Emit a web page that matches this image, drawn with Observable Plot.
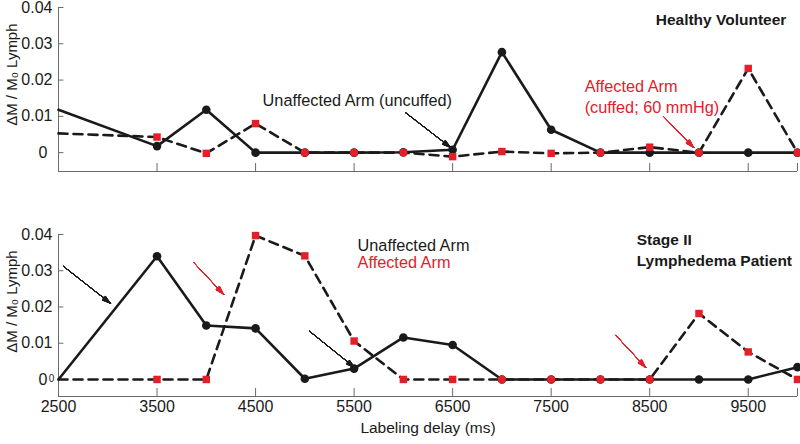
<!DOCTYPE html>
<html><head><meta charset="utf-8">
<script src="https://cdn.jsdelivr.net/npm/d3@7"></script>
<script src="https://cdn.jsdelivr.net/npm/@observablehq/plot@0.6"></script>
<style>
body{margin:0;background:#fff;}
#chart{position:relative;width:800px;height:444px;font-family:Arial,"Liberation Sans",Helvetica,sans-serif;}
#chart svg{position:absolute;left:0;overflow:visible;}
</style></head><body><div id="chart"></div>
<script>
// ---- data ----
const delays = [2500, 3500, 4000, 4500, 5000, 5500, 6000, 6500, 7000, 7500, 8000, 8500, 9000, 9500, 10000];
const healthyUnaffected = [0.0118, 0.0018, 0.0118, 0, 0, 0, 0.0001, 0.0008, 0.0277, 0.0063, 0, 0, 0, 0, 0];
const healthyAffected   = [0.0053, 0.0043, -0.0002, 0.0080, 0, 0, 0, -0.0011, 0.0003, -0.0002, 0, 0.0015, 0, 0.0232, 0];
const patientUnaffected = [0, 0.0340, 0.0149, 0.0141, 0.0002, 0.0030, 0.0116, 0.0095, 0, 0, 0, 0, 0, 0, 0.0034];
const patientAffected   = [0, 0, 0, 0.0397, 0.0341, 0.0106, 0, 0, 0, 0, 0, 0, 0.0182, 0.0076, 0];
const xTicks = [2500, 3500, 4500, 5500, 6500, 7500, 8500, 9500];
const yTicks = [0, 0.01, 0.02, 0.03, 0.04];
const yLabel = "\u0394M / M\u2080 Lymph";
const xLabel = "Labeling delay (ms)";

const topNotes = [
  {x: 4571, y: 0.0143, text: "Unaffected Arm (uncuffed)", color: "#1a1a1a", bold: false},
  {x: 7840, y: 0.0182, text: "Affected Arm", color: "#e3202a", bold: false},
  {x: 7840, y: 0.0124, text: "(cuffed; 60 mmHg)", color: "#e3202a", bold: false},
  {x: 8561, y: 0.0366, text: "Healthy Volunteer", color: "#1a1a1a", bold: true}
];
const topArrows = [
  {x1: 6023, y1: 0.0110, x2: 6480, y2: 0.0014, color: "#1a1a1a"},
  {x1: 8642, y1: 0.0099, x2: 8947, y2: 0.0014, color: "#e3202a"}
];
const bottomNotes = [
  {x: 5535, y: 0.0370, text: "Unaffected Arm", color: "#1a1a1a", bold: false},
  {x: 5535, y: 0.0323, text: "Affected Arm", color: "#e3202a", bold: false},
  {x: 8368, y: 0.0384, text: "Stage II", color: "#1a1a1a", bold: true},
  {x: 8368, y: 0.0326, text: "Lymphedema Patient", color: "#1a1a1a", bold: true},
  {x: 2429, y: 0.0003, text: "0", color: "#1a1a1a", bold: false, small: true}
];
const bottomArrows = [
  {x1: 2551, y1: 0.0312, x2: 3028, y2: 0.0210, color: "#1a1a1a"},
  {x1: 3871, y1: 0.0323, x2: 4175, y2: 0.0235, color: "#e3202a"},
  {x1: 5048, y1: 0.0133, x2: 5505, y2: 0.0033, color: "#1a1a1a"},
  {x1: 8155, y1: 0.0122, x2: 8459, y2: 0.0033, color: "#e3202a"}
];

const RED = "#e3202a", BLK = "#1a1a1a", AX = "#6a6a6a";

function panel({unaff, aff, yMin, height, marginTop, marginBottom, notes, arrows, showX}) {
  const rows = delays.map((d, i) => ({delay: d, u: unaff[i], a: aff[i]}));
  const pts = rows.filter(d => d.delay > 2500);
  const overlap = d => Math.abs(d.u - d.a) < 0.0004;
  const tickLen = 0.0022;
  const marks = [
    Plot.ruleX([2500], {stroke: AX, strokeWidth: 1}),
    Plot.ruleY([yMin], {stroke: AX, strokeWidth: 1}),
    Plot.ruleX(xTicks.concat([10000]).filter(d => d > 2500), {x: d => d, y1: yMin, y2: yMin + tickLen, stroke: AX}),
    Plot.ruleY(yTicks, {y: d => d, x1: 2500, x2: 2555, stroke: AX}),
    Plot.axisY(yTicks.filter(d => d !== 0), {tickSize: 0, tickPadding: 6, fontSize: 16, fill: BLK,
      tickFormat: d3.format(".2f"), label: null}),
    Plot.axisY([0], {tickSize: 0, tickPadding: 11, fontSize: 16, fill: BLK, tickFormat: () => "0", label: null}),
    Plot.text([yLabel], {x: 2500, y: 0.0215, dx: -46, rotate: -90, fontSize: 15, fill: BLK}),
    Plot.line(rows, {x: "delay", y: "u", stroke: BLK, strokeWidth: 2.6}),
    Plot.line(rows, {x: "delay", y: "a", stroke: BLK, strokeWidth: 2.6, strokeDasharray: "9,6"}),
    Plot.dot(pts, {x: "delay", y: "u", r: 4.3, fill: BLK}),
    Plot.dot(pts.filter(d => !overlap(d)), {x: "delay", y: "a", symbol: "square", r: 4.2, fill: RED}),
    Plot.dot(pts.filter(overlap), {x: "delay", y: "a", r: 4, fill: RED})
  ];
  for (let ang = 2; ang <= 36; ang += 3) {
    marks.push(Plot.arrow(arrows, {x1: "x1", y1: "y1", x2: "x2", y2: "y2", stroke: "color",
      strokeWidth: 1, headAngle: ang, headLength: 13}));
  }
  marks.push(
    Plot.text(notes.filter(d => !d.bold && !d.small), {x: "x", y: "y", text: "text", fill: "color", textAnchor: "start", fontSize: 16.3}),
    Plot.text(notes.filter(d => d.bold), {x: "x", y: "y", text: "text", fill: "color", textAnchor: "start", fontSize: 15.5, fontWeight: "bold"}),
    Plot.text(notes.filter(d => d.small), {x: "x", y: "y", text: "text", fill: "color", fontSize: 10})
  );
  if (showX) {
    marks.push(
      Plot.axisX(xTicks, {tickSize: 0, tickPadding: 4, fontSize: 16, fill: BLK, label: null, tickFormat: d => String(d)}),
      Plot.text([xLabel], {frameAnchor: "bottom", dy: 36, fontSize: 15.5, fill: BLK})
    );
  }
  return Plot.plot({
    width: 800, height, marginLeft: 58, marginRight: 3, marginTop, marginBottom,
    x: {domain: [2500, 10000], axis: null},
    y: {domain: [yMin, 0.04], axis: null},
    color: {type: "identity"},
    style: {fontFamily: "Arial, 'Liberation Sans', Helvetica, sans-serif", background: "transparent", overflow: "visible"},
    marks
  });
}

const chart = document.getElementById("chart");
const top1 = panel({unaff: healthyUnaffected, aff: healthyAffected, yMin: -0.0052, height: 185, marginTop: 7, marginBottom: 14, notes: topNotes, arrows: topArrows, showX: false});
top1.style.top = "0px";
const bot = panel({unaff: patientUnaffected, aff: patientAffected, yMin: -0.0047, height: 254, marginTop: 44, marginBottom: 48, notes: bottomNotes, arrows: bottomArrows, showX: true});
bot.style.top = "190px";
chart.appendChild(top1);
chart.appendChild(bot);
</script>
</body></html>
